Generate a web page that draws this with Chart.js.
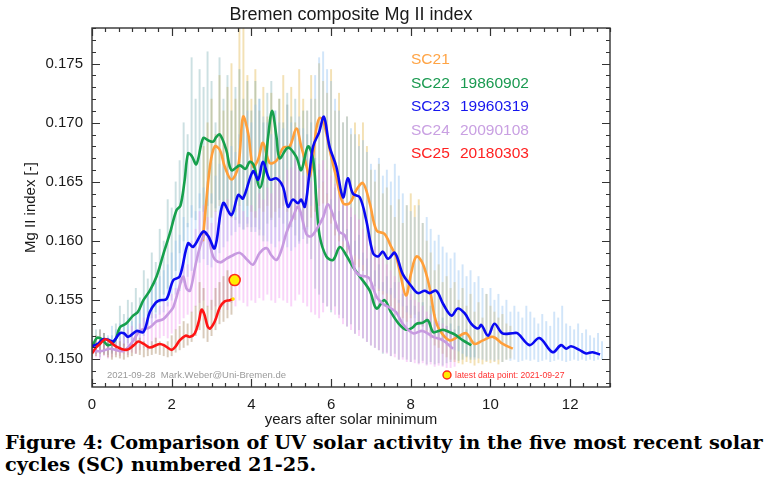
<!DOCTYPE html>
<html>
<head>
<meta charset="utf-8">
<script src="https://cdn.jsdelivr.net/npm/chart.js@4/dist/chart.umd.min.js"></script>
<style>
  html, body { margin: 0; padding: 0; background: #fff; }
  #wrap { position: absolute; left: 0; top: 0; width: 770px; height: 430px; }
  #caption { position: absolute; left: 5px; top: 432px; font-family: "DejaVu Serif", "Liberation Serif", serif; font-weight: bold; color: #000; line-height: 22px; white-space: nowrap; }
</style>
</head>
<body>
<div id="wrap"><canvas id="c" width="770" height="430"></canvas></div>
<div id="caption"><span id="cap1">Figure 4: Comparison of UV solar activity in the five most recent solar</span><br><span>cycles (SC) numbered 21-25.</span></div>
<script>
// ---------- tick labels ----------
const xTickValues = [0, 2, 4, 6, 8, 10, 12];
const yTickValues = [0.150, 0.155, 0.160, 0.165, 0.170, 0.175];

// ---------- legend entries ----------
const cycleNames = ["SC21", "SC22", "SC23", "SC24", "SC25"];
const cycleDates = ["", "19860902", "19960319", "20090108", "20180303"];

// ---------- smoothed Mg II index (years after solar minimum, value) ----------
const yearsSC21 = [2.78,2.83,2.96,3.08,3.21,3.33,3.50,3.67,3.79,3.92,4.04,4.17,4.29,4.46,4.63,4.80,4.96,5.13,5.25,5.34,5.47,5.63,5.71,5.80,6.00,6.13,6.30,6.47,6.63,6.80,6.97,7.14,7.34,7.51,7.63,7.72,7.88,8.01,8.14,8.30,8.47,8.60,8.72,8.97,9.18,9.39,9.60,9.81,10.06,10.31,10.56];
const valuesSC21 = [0.1600,0.1619,0.1663,0.1680,0.1677,0.1663,0.1652,0.1663,0.1705,0.1691,0.1663,0.1669,0.1683,0.1666,0.1668,0.1679,0.1680,0.1695,0.1680,0.1669,0.1655,0.1695,0.1704,0.1702,0.1672,0.1654,0.1632,0.1632,0.1643,0.1649,0.1632,0.1609,0.1606,0.1595,0.1587,0.1575,0.1554,0.1573,0.1587,0.1581,0.1561,0.1536,0.1525,0.1516,0.1519,0.1522,0.1513,0.1516,0.1519,0.1513,0.1509];

const yearsSC22 = [0.00,0.12,0.25,0.40,0.58,0.70,0.85,1.03,1.15,1.29,1.45,1.62,1.80,1.95,2.12,2.22,2.32,2.41,2.50,2.62,2.79,2.92,3.04,3.12,3.21,3.37,3.50,3.71,3.85,3.96,4.06,4.21,4.34,4.42,4.52,4.63,4.71,4.92,5.13,5.25,5.42,5.55,5.63,5.71,5.88,6.05,6.22,6.38,6.55,6.72,6.97,7.14,7.34,7.50,7.70,7.88,8.05,8.14,8.30,8.43,8.56,8.70,8.81,8.97,9.10,9.31,9.52];
const valuesSC22 = [0.1510,0.1518,0.1517,0.1512,0.1516,0.1527,0.1530,0.1537,0.1540,0.1550,0.1558,0.1570,0.1590,0.1606,0.1626,0.1630,0.1650,0.1674,0.1672,0.1665,0.1687,0.1685,0.1684,0.1688,0.1690,0.1677,0.1660,0.1664,0.1661,0.1667,0.1664,0.1645,0.1663,0.1688,0.1710,0.1688,0.1670,0.1679,0.1671,0.1660,0.1680,0.1669,0.1635,0.1605,0.1587,0.1584,0.1595,0.1588,0.1578,0.1570,0.1558,0.1543,0.1550,0.1540,0.1530,0.1525,0.1527,0.1530,0.1531,0.1533,0.1523,0.1524,0.1525,0.1523,0.1521,0.1516,0.1512];

const yearsSC23 = [0.00,0.15,0.28,0.45,0.53,0.70,0.80,0.91,1.12,1.29,1.45,1.60,1.70,1.87,2.04,2.20,2.41,2.54,2.79,2.92,3.08,3.29,3.50,3.67,3.79,4.04,4.17,4.29,4.46,4.63,4.79,4.92,5.04,5.17,5.25,5.34,5.45,5.55,5.70,5.82,5.96,6.13,6.30,6.42,6.55,6.72,6.88,7.05,7.18,7.30,7.43,7.60,7.80,8.01,8.18,8.35,8.47,8.64,8.81,9.02,9.18,9.35,9.52,9.69,9.77,9.94,10.10,10.30,10.55,10.68,10.98,11.23,11.56,11.77,11.90,12.02,12.23,12.40,12.56,12.75];
const valuesSC23 = [0.1511,0.1513,0.1517,0.1516,0.1515,0.1522,0.1522,0.1519,0.1524,0.1523,0.1540,0.1548,0.1550,0.1551,0.1567,0.1570,0.1598,0.1595,0.1608,0.1604,0.1594,0.1632,0.1622,0.1639,0.1636,0.1659,0.1652,0.1667,0.1652,0.1653,0.1646,0.1629,0.1635,0.1632,0.1635,0.1629,0.1655,0.1680,0.1692,0.1705,0.1680,0.1663,0.1637,0.1653,0.1640,0.1637,0.1618,0.1590,0.1587,0.1591,0.1585,0.1590,0.1572,0.1562,0.1556,0.1558,0.1556,0.1558,0.1547,0.1537,0.1543,0.1539,0.1530,0.1526,0.1529,0.1520,0.1530,0.1522,0.1522,0.1522,0.1512,0.1518,0.1506,0.1512,0.1509,0.1511,0.1508,0.1505,0.1506,0.1504];

const yearsSC24 = [0.00,0.25,0.45,0.78,1.00,1.20,1.45,1.62,1.79,1.95,2.04,2.20,2.29,2.37,2.46,2.60,2.71,2.83,2.92,3.04,3.21,3.37,3.54,3.71,3.90,4.04,4.21,4.38,4.50,4.63,4.75,4.88,5.04,5.18,5.38,5.50,5.69,5.80,5.92,6.05,6.20,6.34,6.47,6.60,6.72,6.88,6.97,7.14,7.30,7.45,7.63,7.80,8.06,8.30,8.56,8.81,9.06];
const valuesSC24 = [0.1507,0.1507,0.1509,0.1507,0.1514,0.1524,0.1527,0.1532,0.1534,0.1540,0.1544,0.1562,0.1570,0.1560,0.1558,0.1580,0.1595,0.1606,0.1604,0.1587,0.1582,0.1585,0.1588,0.1590,0.1584,0.1580,0.1590,0.1594,0.1588,0.1584,0.1592,0.1607,0.1620,0.1629,0.1606,0.1604,0.1613,0.1620,0.1631,0.1622,0.1608,0.1605,0.1592,0.1575,0.1571,0.1570,0.1568,0.1553,0.1547,0.1544,0.1540,0.1530,0.1522,0.1524,0.1519,0.1516,0.1509];

const yearsSC25 = [0.00,0.10,0.20,0.33,0.45,0.60,0.87,1.05,1.16,1.30,1.45,1.70,1.85,2.00,2.10,2.20,2.35,2.46,2.58,2.68,2.75,2.82,2.90,2.96,3.08,3.21,3.33,3.46,3.53];
const valuesSC25 = [0.1505,0.1510,0.1513,0.1517,0.1515,0.1511,0.1508,0.1512,0.1515,0.1513,0.1510,0.1513,0.1511,0.1508,0.1511,0.1516,0.1520,0.1519,0.1522,0.1532,0.1542,0.1538,0.1528,0.1526,0.1532,0.1544,0.1549,0.1550,0.1551];

// latest data point
const latestYear = [3.58];
const latestValue = [0.1567];
const lastDailyYear = [3.54];
const lastDailyValue = [0.1551];

// ---------- daily data range (low / high) every 0.1 yr ----------
const dailyStep = 0.1;
const dailyStartSC21 = 2.8;
const dailyHiSC21 = [0.1680,0.1700,
 0.1720,0.1690,0.1740,0.1710,0.1730,0.1750,0.1720,0.1780,0.1780,0.1740,
 0.1720,0.1745,0.1710,0.1730,0.1705,0.1725,0.1700,0.1720,0.1740,0.1715,
 0.1730,0.1700,0.1745,0.1720,0.1710,0.1740,0.1720,0.1750,0.1735,0.1725,
 0.1745,0.1710,0.1725,0.1700,0.1705,0.1690,0.1700,0.1690,0.1700,0.1680,
 0.1660,0.1650,0.1665,0.1640,0.1645,0.1630,0.1620,0.1635,0.1615,0.1630,
 0.1640,0.1630,0.1635,0.1615,0.1600,0.1590,0.1575,0.1580,0.1565,0.1570,
 0.1560,0.1565,0.1550,0.1560,0.1545,0.1555,0.1540,0.1548,0.1535,0.1555,
 0.1545,0.1540,0.1535,0.1538,0.1530,0.1528];
const dailyLoSC21 = [0.1600,0.1610,
 0.1620,0.1625,0.1630,0.1628,0.1625,0.1620,0.1625,0.1630,0.1635,0.1630,
 0.1625,0.1620,0.1628,0.1625,0.1630,0.1620,0.1625,0.1628,0.1630,0.1625,
 0.1620,0.1618,0.1625,0.1615,0.1612,0.1620,0.1625,0.1630,0.1632,0.1628,
 0.1615,0.1605,0.1600,0.1595,0.1590,0.1585,0.1580,0.1578,0.1575,0.1570,
 0.1565,0.1562,0.1558,0.1555,0.1550,0.1545,0.1540,0.1538,0.1535,0.1532,
 0.1535,0.1538,0.1530,0.1528,0.1522,0.1518,0.1512,0.1510,0.1505,0.1502,
 0.1500,0.1498,0.1497,0.1496,0.1498,0.1497,0.1495,0.1497,0.1496,0.1498,
 0.1497,0.1498,0.1496,0.1498,0.1500,0.1501];

const dailyStartSC22 = 0.0;
const dailyHiSC22 = [0.1520,0.1525,0.1518,0.1522,0.1515,0.1520,0.1530,0.1545,0.1538,0.1550,
 0.1548,0.1560,0.1552,0.1575,0.1568,0.1590,0.1582,0.1610,0.1600,0.1635,
 0.1628,0.1650,0.1668,0.1700,0.1690,0.1755,0.1720,0.1745,0.1730,0.1760,
 0.1735,0.1700,0.1755,0.1720,0.1740,0.1710,0.1730,0.1745,0.1720,0.1735,
 0.1710,0.1735,0.1720,0.1700,0.1725,0.1735,0.1710,0.1720,0.1700,0.1725,
 0.1705,0.1720,0.1695,0.1710,0.1690,0.1700,0.1670,0.1660,0.1650,0.1640,
 0.1635,0.1645,0.1625,0.1630,0.1610,0.1620,0.1600,0.1605,0.1590,0.1585,
 0.1590,0.1575,0.1580,0.1565,0.1570,0.1560,0.1565,0.1550,0.1555,0.1545,
 0.1550,0.1545,0.1540,0.1548,0.1535,0.1545,0.1538,0.1530,0.1535,0.1528,
 0.1530,0.1525,0.1528,0.1520,0.1525,0.1518,0.1515];
const dailyLoSC22 = [0.1503,0.1505,0.1502,0.1506,0.1504,0.1505,0.1508,0.1510,0.1512,0.1514,
 0.1516,0.1518,0.1522,0.1525,0.1530,0.1535,0.1540,0.1548,0.1555,0.1560,
 0.1568,0.1575,0.1590,0.1600,0.1612,0.1620,0.1618,0.1628,0.1625,0.1630,
 0.1632,0.1628,0.1635,0.1630,0.1625,0.1620,0.1618,0.1615,0.1610,0.1612,
 0.1608,0.1612,0.1605,0.1600,0.1615,0.1618,0.1612,0.1620,0.1615,0.1610,
 0.1612,0.1605,0.1600,0.1610,0.1598,0.1585,0.1560,0.1555,0.1548,0.1545,
 0.1540,0.1545,0.1538,0.1535,0.1528,0.1530,0.1522,0.1525,0.1518,0.1515,
 0.1512,0.1510,0.1508,0.1505,0.1506,0.1503,0.1505,0.1500,0.1502,0.1500,
 0.1498,0.1500,0.1497,0.1499,0.1496,0.1498,0.1496,0.1497,0.1495,0.1497,
 0.1498,0.1500,0.1499,0.1500,0.1502,0.1500,0.1502];

const dailyStartSC23 = 0.0;
const dailyHiSC23 = [0.1520,0.1518,0.1525,0.1522,0.1520,0.1528,0.1525,0.1530,0.1528,0.1535,
 0.1532,0.1540,0.1545,0.1550,0.1555,0.1560,0.1565,0.1570,0.1575,0.1580,
 0.1590,0.1600,0.1605,0.1620,0.1615,0.1630,0.1625,0.1640,0.1645,0.1650,
 0.1640,0.1655,0.1665,0.1670,0.1660,0.1680,0.1675,0.1690,0.1700,0.1710,
 0.1700,0.1715,0.1720,0.1705,0.1700,0.1690,0.1710,0.1700,0.1695,0.1715,
 0.1700,0.1690,0.1705,0.1695,0.1710,0.1720,0.1740,0.1755,0.1760,0.1745,
 0.1735,0.1720,0.1710,0.1700,0.1705,0.1695,0.1690,0.1680,0.1685,0.1675,
 0.1665,0.1660,0.1670,0.1655,0.1660,0.1650,0.1665,0.1655,0.1640,0.1630,
 0.1625,0.1620,0.1630,0.1615,0.1620,0.1610,0.1600,0.1605,0.1595,0.1590,
 0.1585,0.1590,0.1575,0.1580,0.1570,0.1575,0.1565,0.1570,0.1560,0.1555,
 0.1560,0.1550,0.1555,0.1545,0.1550,0.1540,0.1545,0.1540,0.1535,0.1545,
 0.1540,0.1535,0.1530,0.1538,0.1532,0.1528,0.1540,0.1535,0.1545,0.1530,
 0.1528,0.1525,0.1530,0.1522,0.1525,0.1520,0.1518,0.1522,0.1515];
const dailyLoSC23 = [0.1503,0.1505,0.1507,0.1505,0.1508,0.1506,0.1510,0.1508,0.1510,0.1512,
 0.1510,0.1514,0.1516,0.1520,0.1525,0.1530,0.1535,0.1538,0.1540,0.1545,
 0.1550,0.1555,0.1558,0.1565,0.1570,0.1575,0.1580,0.1582,0.1585,0.1580,
 0.1578,0.1585,0.1590,0.1595,0.1600,0.1605,0.1608,0.1612,0.1610,0.1615,
 0.1612,0.1608,0.1610,0.1605,0.1600,0.1598,0.1595,0.1600,0.1598,0.1595,
 0.1592,0.1595,0.1598,0.1602,0.1610,0.1630,0.1640,0.1645,0.1650,0.1640,
 0.1625,0.1610,0.1605,0.1600,0.1595,0.1590,0.1588,0.1585,0.1580,0.1572,
 0.1565,0.1562,0.1560,0.1558,0.1556,0.1555,0.1552,0.1548,0.1545,0.1540,
 0.1538,0.1535,0.1532,0.1528,0.1525,0.1522,0.1520,0.1518,0.1515,0.1512,
 0.1510,0.1508,0.1507,0.1505,0.1503,0.1502,0.1500,0.1501,0.1500,0.1499,
 0.1500,0.1499,0.1500,0.1498,0.1500,0.1499,0.1500,0.1498,0.1499,0.1500,
 0.1499,0.1500,0.1498,0.1499,0.1500,0.1498,0.1499,0.1500,0.1499,0.1498,
 0.1499,0.1500,0.1499,0.1500,0.1499,0.1500,0.1499,0.1500,0.1500];

const dailyStartSC24 = 0.0;
const dailyHiSC24 = [0.1512,0.1515,0.1510,0.1518,0.1514,0.1516,0.1520,0.1518,0.1522,0.1525,
 0.1528,0.1525,0.1530,0.1535,0.1532,0.1540,0.1538,0.1545,0.1550,0.1548,
 0.1555,0.1560,0.1570,0.1585,0.1580,0.1600,0.1610,0.1625,0.1630,0.1620,
 0.1615,0.1625,0.1620,0.1630,0.1635,0.1625,0.1620,0.1630,0.1625,0.1620,
 0.1630,0.1625,0.1640,0.1635,0.1645,0.1640,0.1650,0.1655,0.1650,0.1660,
 0.1662,0.1668,0.1665,0.1655,0.1660,0.1650,0.1660,0.1665,0.1668,0.1660,
 0.1655,0.1648,0.1645,0.1640,0.1632,0.1628,0.1622,0.1618,0.1610,0.1605,
 0.1600,0.1595,0.1590,0.1585,0.1580,0.1575,0.1570,0.1565,0.1560,0.1555,
 0.1555,0.1550,0.1548,0.1545,0.1540,0.1538,0.1535,0.1532,0.1530,0.1528,
 0.1525,0.1522];
const dailyLoSC24 = [0.1500,0.1502,0.1500,0.1503,0.1501,0.1502,0.1504,0.1503,0.1505,0.1504,
 0.1506,0.1505,0.1508,0.1510,0.1508,0.1512,0.1515,0.1518,0.1520,0.1518,
 0.1522,0.1525,0.1530,0.1535,0.1538,0.1540,0.1545,0.1548,0.1550,0.1545,
 0.1542,0.1545,0.1540,0.1545,0.1542,0.1548,0.1545,0.1550,0.1548,0.1545,
 0.1550,0.1548,0.1552,0.1550,0.1555,0.1550,0.1548,0.1552,0.1550,0.1548,
 0.1545,0.1550,0.1555,0.1548,0.1545,0.1540,0.1538,0.1535,0.1540,0.1545,
 0.1542,0.1538,0.1535,0.1530,0.1528,0.1525,0.1522,0.1520,0.1518,0.1515,
 0.1512,0.1510,0.1508,0.1506,0.1505,0.1503,0.1502,0.1500,0.1500,0.1498,
 0.1498,0.1497,0.1496,0.1497,0.1495,0.1496,0.1494,0.1495,0.1494,0.1493,
 0.1493,0.1494];

const dailyStartSC25 = 0.0;
const dailyHiSC25 = [0.1515,0.1520,0.1525,0.1522,0.1518,0.1515,0.1512,0.1515,0.1513,0.1510,
 0.1515,0.1520,0.1518,0.1515,0.1512,0.1515,0.1518,0.1515,0.1513,0.1515,
 0.1520,0.1525,0.1528,0.1532,0.1530,0.1540,0.1545,0.1565,0.1560,0.1545,
 0.1550,0.1560,0.1565,0.1570,0.1575,0.1570];
const dailyLoSC25 = [0.1500,0.1503,0.1505,0.1504,0.1502,0.1500,0.1502,0.1501,0.1500,0.1502,
 0.1503,0.1505,0.1504,0.1502,0.1503,0.1504,0.1505,0.1504,0.1503,0.1502,
 0.1503,0.1506,0.1508,0.1510,0.1512,0.1515,0.1520,0.1525,0.1518,0.1515,
 0.1520,0.1525,0.1530,0.1532,0.1535,0.1538];

// ---------- styling ----------
const lineColors = ["#ff9f3a", "#16a04c", "#0a0af2", "#c79ae0", "#ff1414"];
const legendColors = ["#ffa445", "#1a9a50", "#1515ee", "#c9a0e2", "#ff2020"];
const dailyColors = ["rgba(225,180,70,0.40)", "rgba(95,160,165,0.32)", "rgba(140,190,240,0.40)", "rgba(238,135,238,0.36)", "rgba(170,140,105,0.45)"];
const FONT = "'Liberation Sans', Arial, Helvetica, sans-serif";

function pairs(xs, ys) { return xs.map((x, i) => ({ x: x, y: ys[i] })); }
function ranges(start, lo, hi) {
  return hi.map((h, i) => ({ x: Math.round((start + i * dailyStep) * 100) / 100, y: [lo[i], h] }));
}
function barSet(start, lo, hi, color, order) {
  return { type: 'bar', data: ranges(start, lo, hi), backgroundColor: color, borderWidth: 0,
           barThickness: 1.3, grouped: false, order: order };
}
function lineSet(xs, ys, color, order) {
  return { type: 'line', data: pairs(xs, ys), borderColor: color, backgroundColor: color,
           borderWidth: 2.6, pointRadius: 0, tension: 0.35, fill: false, order: order };
}

const datasets = [
  { type: 'line', data: pairs(latestYear, latestValue), showLine: false, pointRadius: 5.5,
    pointBackgroundColor: '#ffee00', pointBorderColor: '#ff2a1a', pointBorderWidth: 1.6, order: 0 },
  { type: 'line', data: pairs(lastDailyYear, lastDailyValue), showLine: false, pointRadius: 1.8,
    pointBackgroundColor: '#ffe000', pointBorderWidth: 0, order: 0 },
  lineSet(yearsSC25, valuesSC25, lineColors[4], 1),
  lineSet(yearsSC23, valuesSC23, lineColors[2], 2),
  lineSet(yearsSC24, valuesSC24, lineColors[3], 3),
  lineSet(yearsSC22, valuesSC22, lineColors[1], 4),
  lineSet(yearsSC21, valuesSC21, lineColors[0], 5),
  barSet(dailyStartSC25, dailyLoSC25, dailyHiSC25, dailyColors[4], 10),
  barSet(dailyStartSC24, dailyLoSC24, dailyHiSC24, dailyColors[3], 11),
  barSet(dailyStartSC23, dailyLoSC23, dailyHiSC23, dailyColors[2], 12),
  barSet(dailyStartSC22, dailyLoSC22, dailyHiSC22, dailyColors[1], 13),
  barSet(dailyStartSC21, dailyLoSC21, dailyHiSC21, dailyColors[0], 14)
];

const decor = {
  id: 'decor',
  beforeDraw(chart) {
    const c = chart.ctx;
    c.save(); c.fillStyle = '#fff'; c.fillRect(0, 0, chart.width, chart.height); c.restore();
  },
  afterDraw(chart) {
    const c = chart.ctx, a = chart.chartArea;
    const xs = chart.scales.x, ys = chart.scales.y;
    c.save();
    c.strokeStyle = '#333'; c.lineWidth = 1.4;
    c.strokeRect(a.left, a.top, a.right - a.left, a.bottom - a.top);
    c.lineWidth = 1.2;
    c.beginPath();
    // x ticks (major every 2, minor every 1/3)
    for (let k = 0; k <= 39; k++) {
      const v = k / 3;
      if (v > xs.max + 1e-9) break;
      const px = Math.round(xs.getPixelForValue(v)) + 0.5;
      const len = (k % 6 === 0) ? 8 : 4;
      c.moveTo(px, a.bottom); c.lineTo(px, a.bottom - len);
      c.moveTo(px, a.top); c.lineTo(px, a.top + len);
    }
    // y ticks (major every 0.005, minor every 0.001)
    for (let k = 148; k <= 178; k++) {
      const v = k / 1000;
      if (v < ys.min || v > ys.max) continue;
      const py = Math.round(ys.getPixelForValue(v)) + 0.5;
      const len = (k % 5 === 0) ? 8 : 4;
      c.moveTo(a.left, py); c.lineTo(a.left + len, py);
      c.moveTo(a.right, py); c.lineTo(a.right - len, py);
    }
    c.stroke();

    // title
    c.fillStyle = '#1a1a1a';
    c.font = '18px ' + FONT; c.textAlign = 'center'; c.textBaseline = 'alphabetic';
    c.fillText('Bremen composite Mg II index', (a.left + a.right) / 2, 20);
    // axis titles
    c.font = '15px ' + FONT; c.textBaseline = 'middle';
    c.fillText('years after solar minimum', (a.left + a.right) / 2, 420);
    c.save();
    c.translate(31, (a.top + a.bottom) / 2); c.rotate(-Math.PI / 2);
    c.fillText('Mg II index [-]', 0, 0);
    c.restore();

    // legend text
    c.font = '15.5px ' + FONT; c.textAlign = 'left'; c.textBaseline = 'alphabetic';
    const base = [64, 87.5, 111, 134.5, 158];
    for (let i = 0; i < cycleNames.length; i++) {
      c.fillStyle = legendColors[i];
      c.fillText(cycleNames[i], 411, base[i]);
      if (cycleDates[i]) c.fillText(cycleDates[i], 460, base[i]);
    }
    // footnotes
    c.font = '9.5px ' + FONT; c.fillStyle = '#9a9a9a'; c.textBaseline = 'middle';
    c.fillText('2021-09-28  Mark.Weber@Uni-Bremen.de', 107, 375);
    c.beginPath(); c.arc(447, 375, 4, 0, Math.PI * 2);
    c.fillStyle = '#ffee00'; c.fill(); c.lineWidth = 1.4; c.strokeStyle = '#ff2a1a'; c.stroke();
    c.font = '8.6px ' + FONT; c.fillStyle = '#ff3030';
    c.fillText('latest data point: 2021-09-27', 455, 375.5);
    c.restore();
  }
};

new Chart(document.getElementById('c'), {
  type: 'line',
  data: { datasets: datasets },
  options: {
    responsive: false,
    animation: false,
    events: [],
    layout: { padding: { left: 0, right: 160, top: 28, bottom: 0 } },
    plugins: { legend: { display: false }, tooltip: { enabled: false }, title: { display: false } },
    scales: {
      x: {
        type: 'linear', min: 0, max: 13, offset: false,
        grid: { display: false, drawTicks: false },
        border: { display: false },
        afterBuildTicks: (s) => { s.ticks = xTickValues.map(v => ({ value: v })); },
        afterFit: (s) => { s.height = 43; },
        ticks: { padding: 9, color: '#1a1a1a', font: { family: FONT, size: 15 }, maxRotation: 0,
                 callback: (v) => String(v) }
      },
      y: {
        type: 'linear', min: 0.14766, max: 0.17801,
        grid: { display: false, drawTicks: false },
        border: { display: false },
        afterBuildTicks: (s) => { s.ticks = yTickValues.map(v => ({ value: v })); },
        afterFit: (s) => { s.width = 92; },
        ticks: { padding: 9, color: '#1a1a1a', font: { family: FONT, size: 15 },
                 callback: (v) => Number(v).toFixed(3) }
      }
    }
  },
  plugins: [decor]
});

// fit the caption's first line to the reference width
(function () {
  const cap = document.getElementById('caption');
  const l1 = document.getElementById('cap1');
  cap.style.fontSize = '18px';
  const w = l1.getBoundingClientRect().width;
  cap.style.fontSize = (18 * 758 / w).toFixed(2) + 'px';
})();
</script>
</body>
</html>
